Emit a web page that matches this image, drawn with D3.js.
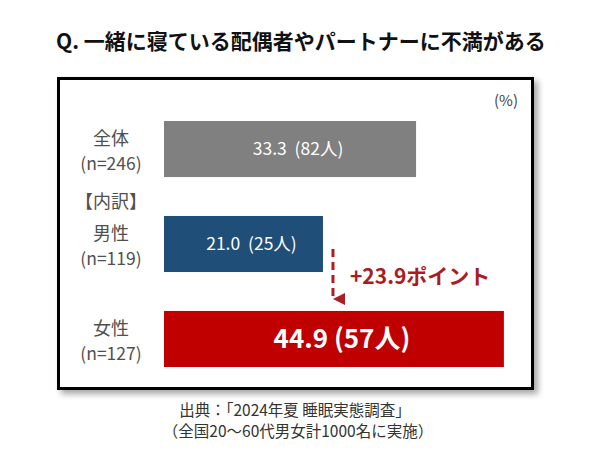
<!DOCTYPE html>
<html>
<head>
<meta charset="utf-8">
<script src="https://cdn.jsdelivr.net/npm/d3@7"></script>
<style>
  body { margin: 0; background: #fff; }
  text { font-family: "Noto Sans CJK JP", "Noto Sans", sans-serif; }
</style>
</head>
<body>
<div class="container"></div>
<script>
// data
var categories = ['全体', '男性', '女性'];
var sampleSizes = ['(n=246)', '(n=119)', '(n=127)'];
var values = [33.3, 21.0, 44.9];
var counts = [82, 25, 57];
var barColors = ['#808080', '#1f4e79', '#c00000'];
var diffLabel = '+23.9ポイント';

var svg = d3.select('.container')
            .append('svg')
                .attr('width', 590)
                .attr('height', 473);

// shadow for the frame
var defs = svg.append('defs');
var f = defs.append('filter')
            .attr('id', 'shadow')
            .attr('x', '-5%').attr('y', '-5%')
            .attr('width', '115%').attr('height', '115%');
f.append('feDropShadow')
    .attr('dx', 4).attr('dy', 4)
    .attr('stdDeviation', 3)
    .attr('flood-color', '#000')
    .attr('flood-opacity', 0.35);

defs.append('marker')
    .attr('id', 'arrowHead')
    .attr('viewBox', '0 0 10 10')
    .attr('refX', 5).attr('refY', 10)
    .attr('markerWidth', 12).attr('markerHeight', 16)
    .attr('markerUnits', 'userSpaceOnUse')
    .attr('orient', 'auto-start-reverse')
  .append('path')
    .attr('d', 'M0,0 L10,0 L5,10 Z')
    .attr('fill', '#b01c22');

svg.append('text')
    .attr('x', 301)
    .attr('y', 49)
    .attr('text-anchor', 'middle')
    .style('font-size', '21px')
    .style('font-weight', 'bold')
    .style('fill', '#111')
    .text('Q. 一緒に寝ている配偶者やパートナーに不満がある');

svg.append('rect')
    .attr('x', 58.5)
    .attr('y', 78.5)
    .attr('width', 474)
    .attr('height', 310)
    .style('fill', '#fff')
    .style('stroke', '#000')
    .style('stroke-width', 3)
    .attr('filter', 'url(#shadow)');

svg.append('text')
    .attr('x', 518)
    .attr('y', 106)
    .attr('text-anchor', 'end')
    .style('font-size', '15px')
    .style('fill', '#444')
    .text('(%)');

var x = d3.scaleLinear()
            .domain([0, 50])
            .range([164, 542.5]);

var y = d3.scaleBand()
            .domain(categories)
            .range([121, 367])
            .paddingInner(0.41)
            .paddingOuter(0);

var bars = svg.selectAll('.bar')
    .data(categories)
    .enter()
    .append('rect')
        .attr('class', 'bar')
        .attr('x', x(0))
        .attr('y', function(d) { return y(d); })
        .attr('width', function(d, i) { return x(values[i]) - x(0); })
        .attr('height', y.bandwidth())
        .style('fill', function(d, i) { return barColors[i]; });

// value labels inside bars
svg.selectAll('.val')
    .data(categories)
    .enter()
    .append('text')
        .attr('class', 'val')
        .attr('x', function(d, i) { return (x(0) + x(values[i])) / 2 + 8; })
        .attr('y', function(d) { return y(d) + y.bandwidth() / 2; })
        .attr('dy', function(d, i) { return i == 2 ? '0.36em' : '0.33em'; })
        .attr('text-anchor', 'middle')
        .attr('xml:space', 'preserve')
        .style('fill', '#fff')
        .style('font-size', function(d, i) { return i == 2 ? '26px' : '17.5px'; })
        .style('font-weight', function(d, i) { return i == 2 ? 'bold' : 'normal'; })
        .text(function(d, i) { return values[i].toFixed(1) + (i == 2 ? ' ' : '  ') + '(' + counts[i] + '人)'; });

// category labels
var labelX = 111;
var labelColor = '#505050';
svg.selectAll('.cat')
    .data(categories)
    .enter()
    .append('text')
        .attr('class', 'cat')
        .attr('x', labelX)
        .attr('y', function(d) { return y(d) + y.bandwidth() / 2 - 4; })
        .attr('text-anchor', 'middle')
        .style('font-size', '18px')
        .style('fill', labelColor)
        .text(function(d) { return d; });

svg.selectAll('.n')
    .data(categories)
    .enter()
    .append('text')
        .attr('class', 'n')
        .attr('x', labelX)
        .attr('y', function(d) { return y(d) + y.bandwidth() / 2 + 21; })
        .attr('text-anchor', 'middle')
        .style('font-size', '17.5px')
        .style('fill', labelColor)
        .text(function(d, i) { return sampleSizes[i]; });

svg.append('text')
    .attr('x', labelX)
    .attr('y', (y(categories[0]) + y.bandwidth() + y(categories[1])) / 2 + 11)
    .attr('text-anchor', 'middle')
    .style('font-size', '18px')
    .style('fill', labelColor)
    .text('【内訳】');

// difference arrow
var arrowX = x(values[1]) + 10;
svg.append('line')
    .attr('x1', arrowX)
    .attr('y1', y(categories[1]) + 33)
    .attr('x2', arrowX)
    .attr('y2', y(categories[2]) - 12)
    .style('stroke', '#b01c22')
    .style('stroke-width', 3)
    .style('stroke-dasharray', '8,5')
    .attr('marker-end', 'url(#arrowHead)');

svg.append('text')
    .attr('x', arrowX + 17)
    .attr('y', 284)
    .style('font-size', '21px')
    .style('font-weight', 'bold')
    .style('fill', '#a81c22')
    .text(diffLabel);

// source
svg.append('text')
    .attr('x', 295)
    .attr('y', 416)
    .attr('text-anchor', 'middle')
    .style('font-size', '15.5px')
    .style('fill', '#333')
    .text('出典：「2024年夏 睡眠実態調査」');

svg.append('text')
    .attr('x', 298)
    .attr('y', 437)
    .attr('text-anchor', 'middle')
    .style('font-size', '15.5px')
    .style('fill', '#333')
    .text('（全国20～60代男女計1000名に実施）');
</script>
</body>
</html>
